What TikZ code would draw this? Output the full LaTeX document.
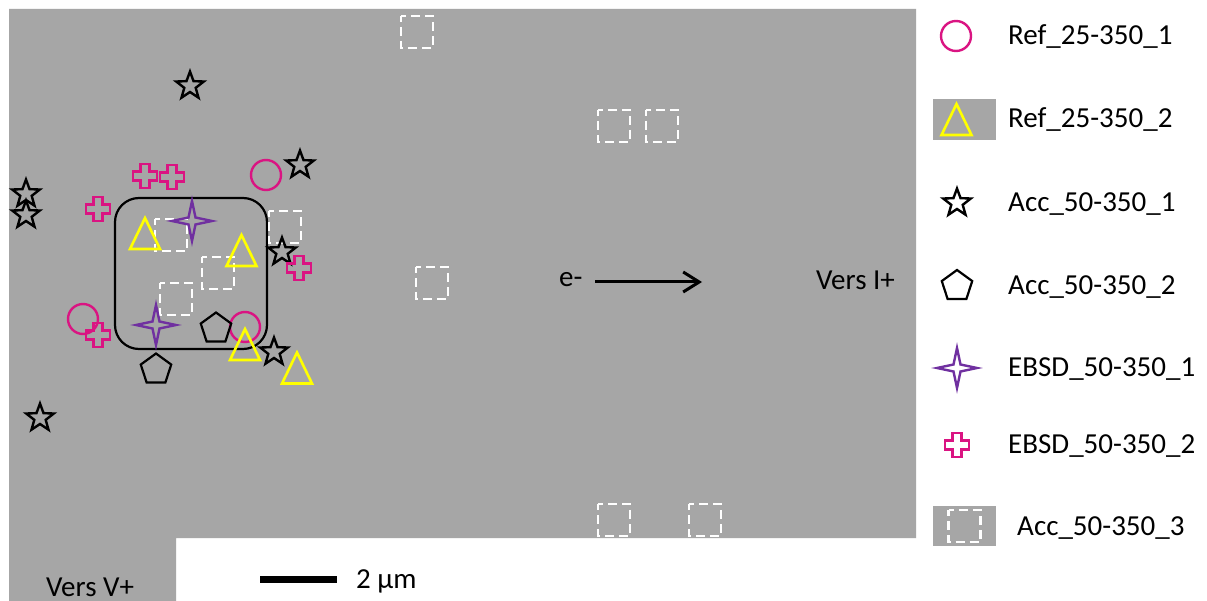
\documentclass[tikz,border=0pt]{standalone}
\usepackage{fontspec}
\setmainfont{Carlito}
\usetikzlibrary{arrows.meta}
\definecolor{graybg}{RGB}{166,166,166}
\definecolor{mag}{RGB}{218,20,130}
\definecolor{yel}{RGB}{255,255,0}
\definecolor{purp}{RGB}{112,48,160}
\tikzset{
  txt/.style={font=\fontsize{29}{34}\selectfont, inner sep=0pt, anchor=base west},
  pstar/.pic={\draw[black, line width=2.4pt, line join=miter]
     (-90:14.5) -- (-54:6) -- (-18:14.5) -- (18:6) -- (54:14.5) -- (90:6)
     -- (126:14.5) -- (162:6) -- (198:14.5) -- (234:6) -- cycle;},
  ppent/.pic={\draw[black, line width=2.2pt, line join=miter]
     (-90:16) -- (-18:16) -- (54:16) -- (126:16) -- (198:16) -- cycle;},
  ptri/.pic={\draw[yel, line width=2.6pt, line join=miter]
     (0,-15.5) -- (15,15.5) -- (-15,15.5) -- cycle;},
  pcirc/.pic={\draw[mag, line width=2.4pt] (0,0) circle[radius=15];},
  pcross/.pic={\draw[mag, line width=2.4pt]
     (-4.5,-12) -- (4.5,-12) -- (4.5,-4.5) -- (12,-4.5) -- (12,4.5) -- (4.5,4.5)
     -- (4.5,12) -- (-4.5,12) -- (-4.5,4.5) -- (-12,4.5) -- (-12,-4.5) -- (-4.5,-4.5) -- cycle;},
  pfour/.pic={\draw[purp, line width=2.4pt, line join=miter]
     (0,-20) -- (3.5,-3.5) -- (20,0) -- (3.5,3.5) -- (0,20) -- (-3.5,3.5)
     -- (-20,0) -- (-3.5,-3.5) -- cycle;},
  psq/.pic={\draw[white, line width=2.2pt, dash pattern=on 9pt off 5pt, dash phase=3pt]
     (-16,-16) rectangle (16,16);},
}
\begin{document}
\begin{tikzpicture}[x=1pt,y=-1pt]
\useasboundingbox (0,0) rectangle (1207,601);
\fill[white] (0,0) rectangle (1207,601);
% gray field
\fill[graybg] (9,9) -- (916,9) -- (916,538) -- (176,538) -- (176,601) -- (9,601) -- cycle;
% legend backgrounds
\fill[graybg] (933,99) rectangle (996,140);
\fill[graybg] (933,506) rectangle (996,546);
% region of interest
\draw[black, line width=2.2pt, rounded corners=24pt] (115,198) rectangle (267,349);
% Acc_50-350_3 squares
\foreach \p in {(417,32),(614,126),(662,126),(285,227),(171,235),(218,273),(176,299),(432,283),(614,520),(705,520)}
  \pic at \p {psq};
% stars
\foreach \p in {(190,86),(300,165),(26,194),(26,215),(282,252),(274,352),(40,418)}
  \pic at \p {pstar};
% circles
\foreach \p in {(266,175),(83,319),(245,327)}
  \pic at \p {pcirc};
% crosses
\foreach \p in {(145,176),(172,177),(98,209),(299,268),(98,335)}
  \pic at \p {pcross};
% triangles
\foreach \p in {(145,233.5),(241.5,250.5),(245,344.5),(297,368)}
  \pic at \p {ptri};
% pentagons
\foreach \p in {(156,369.5),(216,328.5)}
  \pic at \p {ppent};
% four-point stars
\foreach \p in {(192,221),(156,325)}
  \pic at \p {pfour};
% legend symbols
\pic at (956,36) {pcirc};
\pic at (956.5,119.5) {ptri};
\pic at (957,203) {pstar};
\pic at (957,286) {ppent};
\pic at (957,368) {pfour};
\pic at (957,445) {pcross};
\pic at (964.5,526) {psq};
% legend texts
\node[txt] (l1) at (1008,45) {Ref\_25-350\_1};
\node[txt] (l2) at (1008,128) {Ref\_25-350\_2};
\node[txt] (l3) at (1008,212) {Acc\_50-350\_1};
\node[txt] (l4) at (1008,295) {Acc\_50-350\_2};
\node[txt] (l5) at (1008,377) {EBSD\_50-350\_1};
\node[txt] (l6) at (1008,453) {EBSD\_50-350\_2};
\node[txt] (l7) at (1017,535) {Acc\_50-350\_3};
% electron direction
\node[txt] (em) at (559,287) {e-};
\coordinate (a1) at (595,282);
\coordinate (a2) at (702,282);
\draw[black, line width=3pt, -{Straight Barb[length=16pt,width=20pt,line width=3pt]}] (a1) -- (a2);
\node[txt] (vi) at (816,290) {Vers I+};
\node[txt] (vv) at (46,596) {Vers V+};
% scale bar
\coordinate (s1) at (260,579.5);
\coordinate (s2) at (337,579.5);
\draw[black, line width=7pt] (s1) -- (s2);
\node[txt] (sb) at (356,588) {2 µm};
\end{tikzpicture}
\end{document}
